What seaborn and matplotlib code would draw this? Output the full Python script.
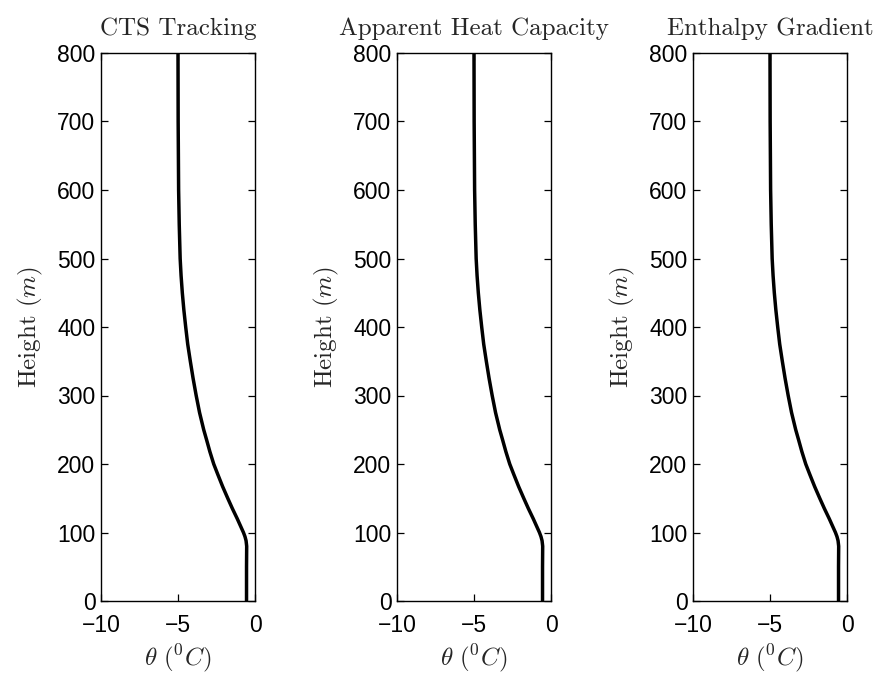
import matplotlib
matplotlib.use("Agg")
import matplotlib.pyplot as plt
import seaborn as sns
import pandas as pd

# ---- data ----
titles = ["CTS Tracking", "Apparent Heat Capacity", "Enthalpy Gradient"]
height = [0, 50, 80, 88, 94, 100, 110, 120, 135, 150, 167, 185, 200, 218, 235,
          250, 275, 300, 325, 350, 375, 400, 425, 450, 475, 500, 550, 600, 700, 800]
theta_cts = [-0.55, -0.55, -0.54, -0.58, -0.65, -0.75, -0.95, -1.15, -1.47, -1.77,
             -2.1, -2.42, -2.68, -2.93, -3.14, -3.33, -3.6, -3.82, -4.02, -4.2,
             -4.37, -4.5, -4.62, -4.72, -4.8, -4.86, -4.92, -4.96, -4.99, -5.0]
theta_ahc = [-0.55, -0.55, -0.54, -0.58, -0.65, -0.75, -0.95, -1.15, -1.47, -1.77,
             -2.1, -2.42, -2.68, -2.93, -3.14, -3.33, -3.6, -3.82, -4.02, -4.2,
             -4.37, -4.5, -4.62, -4.72, -4.8, -4.86, -4.92, -4.96, -4.99, -5.0]
theta_eg = [-0.55, -0.55, -0.54, -0.58, -0.65, -0.75, -0.95, -1.15, -1.47, -1.77,
            -2.1, -2.42, -2.68, -2.93, -3.14, -3.33, -3.6, -3.82, -4.02, -4.2,
            -4.37, -4.5, -4.62, -4.72, -4.8, -4.86, -4.92, -4.96, -4.99, -5.0]
xticks = [-10, -5, 0]
yticks = [0, 100, 200, 300, 400, 500, 600, 700, 800]

sns.set_style("ticks")
plt.rcParams["font.family"] = ["Liberation Sans", "DejaVu Sans"]
plt.rcParams["mathtext.fontset"] = "cm"
plt.rcParams["axes.unicode_minus"] = True
plt.rcParams["axes.linewidth"] = 1.0

fig = plt.figure(figsize=(8.77, 6.75), dpi=100)
lefts = [101, 397, 693]
W, H = 877.0, 675.0
series = [theta_cts, theta_ahc, theta_eg]

for left, title, th in zip(lefts, titles, series):
    ax = fig.add_axes([left / W, 1 - 601 / H, 154 / W, (601 - 53) / H])
    df = pd.DataFrame({"theta": th, "height": height})
    sns.lineplot(data=df, x="theta", y="height", orient="y", sort=False,
                 estimator=None, color="black", linewidth=2.5, ax=ax)
    ax.set_xlim(-10, 0)
    ax.set_ylim(0, 800)
    ax.set_xticks(xticks)
    ax.set_yticks(yticks)
    ax.tick_params(direction="in", length=5, width=0.9, labelsize=16.5,
                   top=True, right=True, colors="black", pad=4)
    ax.tick_params(axis="x", pad=9)
    for s in ax.spines.values():
        s.set_visible(True)
        s.set_linewidth(1.0)
        s.set_color("black")
    ax.set_title(title, family="cmr10", fontsize=18, pad=13)
    ax.set_xlabel(r"$\theta\ (^0C)$", fontsize=18, labelpad=4)
    ax.set_ylabel(r"Height ($m$)", family="cmr10", fontsize=18, labelpad=9)

fig.savefig("out.png", dpi=100, facecolor="white")
